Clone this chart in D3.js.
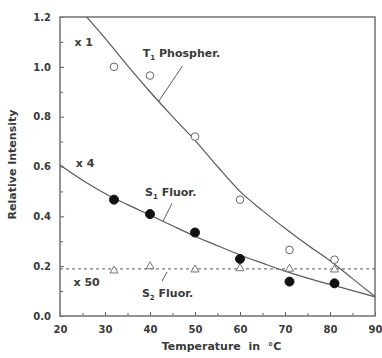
<!DOCTYPE html>
<html><head><meta charset="utf-8">
<script src="https://cdn.jsdelivr.net/npm/d3@7"></script>
<style>
html,body{margin:0;padding:0;background:#fff;}
svg text{font-family:"DejaVu Sans",sans-serif;font-weight:bold;fill:#3a3a3a;}
</style></head>
<body><svg id="chart" width="382" height="358"></svg>
<script>
// ---- data ----
const temps = [32, 40, 50, 60, 71, 81];
const t1Phosphor = [1.0, 0.965, 0.72, 0.467, 0.265, 0.226];
const s1Fluor = [0.467, 0.409, 0.335, 0.229, 0.138, 0.131];
const s2Fluor = [0.182, 0.199, 0.186, 0.191, 0.189, 0.186];
const s2Level = 0.189;
const fitX = [20, 25, 30, 35, 40, 45, 50, 55, 60, 65, 70, 75, 80, 85, 90];
const t1Fit = [1.33, 1.22, 1.115, 1.005, 0.90, 0.80, 0.705, 0.60, 0.50, 0.423, 0.352, 0.285, 0.222, 0.15, 0.078];
const s1Fit = [0.606, 0.545, 0.492, 0.447, 0.405, 0.362, 0.32, 0.282, 0.245, 0.212, 0.18, 0.152, 0.127, 0.102, 0.077];
const xTicks = [20, 30, 40, 50, 60, 70, 80, 90];
const xMinor = [25, 35, 45, 55, 65, 75, 85];
const yTicks = [0.0, 0.2, 0.4, 0.6, 0.8, 1.0, 1.2];
const yMinor = [0.1, 0.3, 0.5, 0.7, 0.9, 1.1];
const xTitle = "Temperature  in  °C";
const yTitle = "Relative Intensity";

// ---- layout ----
const W = 382, H = 358;
const m = {left: 60, right: 7, top: 17, bottom: 42};
const svg = d3.select("#chart");
const x = d3.scaleLinear().domain([20, 90]).range([m.left, W - m.right]);
const y = d3.scaleLinear().domain([0, 1.2]).range([H - m.bottom, m.top]);
const gray = "#5a5a5a";

svg.append("defs").append("clipPath").attr("id", "clip")
  .append("rect").attr("x", m.left).attr("y", m.top)
  .attr("width", W - m.left - m.right).attr("height", H - m.top - m.bottom);

// axes with inward ticks
svg.append("g").attr("transform", `translate(0,${y(0)})`)
  .call(d3.axisBottom(x).tickValues(xTicks).tickSize(-4).tickPadding(10).tickFormat(d3.format("d")));
svg.append("g").attr("transform", `translate(0,${y(0)})`)
  .call(d3.axisBottom(x).tickValues(xMinor).tickSize(-3).tickFormat(""));
svg.append("g").attr("transform", `translate(${x(20)},0)`)
  .call(d3.axisLeft(y).tickValues(yTicks).tickSize(-4).tickPadding(9).tickFormat(d3.format(".1f")));
svg.append("g").attr("transform", `translate(${x(20)},0)`)
  .call(d3.axisLeft(y).tickValues(yMinor).tickSize(-3).tickFormat(""));
svg.selectAll(".domain").attr("stroke", "none");
svg.selectAll(".tick line").attr("stroke", gray).attr("stroke-width", 1);
svg.selectAll(".tick text").attr("font-size", 10).attr("fill", "#3a3a3a");

// frame
svg.append("rect").attr("x", x(20)).attr("y", y(1.2))
  .attr("width", x(90) - x(20)).attr("height", y(0) - y(1.2))
  .attr("fill", "none").attr("stroke", "#7a7a7a").attr("stroke-width", 1.6);

// titles
svg.append("text").attr("x", (x(20) + x(90)) / 2 + 4).attr("y", H - 8)
  .attr("text-anchor", "middle").attr("font-size", 11).style("white-space", "pre").text(xTitle);
svg.append("text").attr("transform", `translate(16,${(y(0) + y(1.2)) / 2 - 2}) rotate(-90)`)
  .attr("text-anchor", "middle").attr("font-size", 11).text(yTitle);

const plot = svg.append("g").attr("clip-path", "url(#clip)");

// S2 dashed level
plot.append("line").attr("x1", x(20)).attr("x2", x(90))
  .attr("y1", y(s2Level)).attr("y2", y(s2Level))
  .attr("stroke", gray).attr("stroke-width", 1).attr("stroke-dasharray", "3,3");

// fit curves
const line = d3.line().x((d, i) => x(fitX[i])).y(d => y(d)).curve(d3.curveMonotoneX);
plot.append("path").datum(t1Fit).attr("d", line)
  .attr("fill", "none").attr("stroke", gray).attr("stroke-width", 1.2);
plot.append("path").datum(s1Fit).attr("d", line)
  .attr("fill", "none").attr("stroke", gray).attr("stroke-width", 1.2);

// markers
plot.selectAll(".t1").data(t1Phosphor).enter().append("circle")
  .attr("cx", (d, i) => x(temps[i])).attr("cy", d => y(d)).attr("r", 3.8)
  .attr("fill", "#fff").attr("stroke", "#666").attr("stroke-width", 1);
plot.selectAll(".s1").data(s1Fluor).enter().append("circle")
  .attr("cx", (d, i) => x(temps[i])).attr("cy", d => y(d)).attr("r", 4.5)
  .attr("fill", "#111").attr("stroke", "#111");
const tri = d3.symbol().type(d3.symbolTriangle).size(28);
plot.selectAll(".s2").data(s2Fluor).enter().append("path")
  .attr("d", tri)
  .attr("transform", (d, i) => `translate(${x(temps[i])},${y(d)})`)
  .attr("fill", "#fff").attr("stroke", "#777").attr("stroke-width", 1);

// annotations
function label(tx, ty, main, sub, rest) {
  const t = svg.append("text").attr("x", x(tx)).attr("y", y(ty)).attr("font-size", 11);
  t.append("tspan").text(main);
  if (sub) {
    t.append("tspan").attr("font-size", 7).attr("dy", 3).text(sub);
    t.append("tspan").attr("dy", -3).text(rest);
  }
}
function leader(x1, y1, x2, y2) {
  svg.append("line").attr("x1", x(x1)).attr("y1", y(y1)).attr("x2", x(x2)).attr("y2", y(y2))
    .attr("stroke", gray).attr("stroke-width", 1);
}
label(23.2, 1.083, "x 1");
label(23.5, 0.598, "x 4");
label(23.0, 0.120, "x 50");
label(38.4, 1.039, "T", "1", " Phospher.");
label(38.9, 0.482, "S", "1", " Fluor.");
label(38.2, 0.076, "S", "2", " Fluor.");
leader(47.2, 1.003, 41.9, 0.861);
leader(44.9, 0.453, 42.9, 0.381);
leader(43.8, 0.177, 42.7, 0.140);
</script></body></html>
